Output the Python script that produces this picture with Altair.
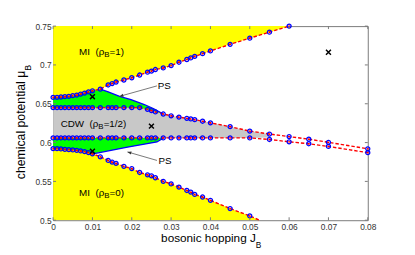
import altair as alt
import pandas as pd

FONT = "Liberation Sans"

# ---------------- data ----------------
J_GRID = [0.000, 0.001, 0.002, 0.003, 0.004, 0.005, 0.006, 0.007, 0.008, 0.009, 0.010,
          0.012, 0.014, 0.015, 0.016, 0.018, 0.020, 0.022,
          0.024, 0.025, 0.026, 0.028, 0.030, 0.032, 0.034, 0.035, 0.036, 0.038, 0.040,
          0.045, 0.050, 0.055, 0.060]
J_EXTRA = [0.065, 0.070, 0.080]

# MI (rho_B = 1) boundary
MU_MI1 = [0.6582, 0.6582, 0.6587, 0.6591, 0.6595, 0.6604, 0.6612, 0.6625, 0.6637, 0.6652, 0.6667,
          0.6688, 0.6742, 0.6760, 0.6780, 0.6806, 0.6835, 0.6870,
          0.6907, 0.6920, 0.6941, 0.6961, 0.6991, 0.7035, 0.7070, 0.7090, 0.7110, 0.7145, 0.7180,
          0.7265, 0.7345, 0.7422, 0.7500]
# CDW upper boundary
MU_CDW_TOP = [0.6450] * 18 + [0.6428, 0.6412, 0.6395, 0.6368, 0.6345, 0.6328, 0.6312, 0.6305,
                              0.6295, 0.6275, 0.6254, 0.6205, 0.6148, 0.6110, 0.6077,
                              0.6044, 0.6003, 0.5920]
# CDW lower boundary
MU_CDW_BOT = [0.6060] * 31 + [0.6040, 0.6010, 0.5985, 0.5950, 0.5870]
# MI (rho_B = 0) boundary
MU_MI0 = [0.5922, 0.5922, 0.5918, 0.5913, 0.5909, 0.5905, 0.5900, 0.5892, 0.5884, 0.5871, 0.5855,
          0.5817, 0.5770, 0.5749, 0.5732, 0.5694, 0.5665, 0.5615,
          0.5585, 0.5572, 0.5547, 0.5501, 0.5467, 0.5426, 0.5383, 0.5363, 0.5332, 0.5299, 0.5256,
          0.5150, 0.5055]
MI0_EDGE_J = 0.0525   # where the MI(0) boundary leaves the frame at mu = 0.5

# phase-separation (PS) boundaries
PS_UP_J = [0.012, 0.014, 0.0169, 0.0198, 0.0232, 0.0256, 0.028]
PS_UP_MU = [0.6688, 0.6654, 0.6595, 0.6553, 0.6490, 0.6436, 0.6368]
PS_LO_J = [0.010, 0.0115, 0.0189, 0.0264, 0.028]
PS_LO_MU = [0.5855, 0.5868, 0.5940, 0.6008, 0.6055]

# green PS region lower edge under the upper PS line
GREEN_UP_LO = [0.6450] * 11 + [0.6450, 0.6450, 0.6450, 0.6450, 0.6437, 0.6405, 0.6368]
GRAY_J = J_GRID[:32]
GRAY_LO = [0.6060] * 31 + [0.6065]

# crosses
CROSS_J = [0.010, 0.010, 0.025, 0.070]
CROSS_MU = [0.6591, 0.5888, 0.6212, 0.7163]

# arrows (text -> boundary)
ARROW_UP_J = [0.0264, 0.01687]
ARROW_UP_MU = [0.6730, 0.6595]
ARROW_LO_J = [0.0264, 0.0189]
ARROW_LO_MU = [0.5770, 0.5880]

X_TICKS = [0.0, 0.01, 0.02, 0.03, 0.04, 0.05, 0.06, 0.07, 0.08]
Y_TICKS = [0.5, 0.55, 0.6, 0.65, 0.7, 0.75]

# ---------------- tables ----------------
J_ALL = J_GRID + J_EXTRA
yellow_top = pd.DataFrame({"J": J_GRID, "lo": MU_MI1, "hi": [0.75] * len(J_GRID)})
yellow_bot = pd.DataFrame({"J": J_GRID[:31] + [MI0_EDGE_J],
                           "lo": [0.5] * 32, "hi": MU_MI0 + [0.5]})
gray = pd.DataFrame({"J": GRAY_J, "lo": GRAY_LO, "hi": MU_CDW_TOP[:32]})
green_up = pd.DataFrame({"J": J_GRID[:11] + PS_UP_J,
                         "lo": GREEN_UP_LO,
                         "hi": MU_MI1[:11] + PS_UP_MU})
green_lo = pd.DataFrame({"J": J_GRID[:11] + PS_LO_J[1:],
                         "lo": MU_MI0[:11] + PS_LO_MU[1:],
                         "hi": [0.6060] * 15})

pts = pd.concat([
    pd.DataFrame({"J": J_GRID, "mu": MU_MI1, "s": "MI1"}),
    pd.DataFrame({"J": J_ALL, "mu": MU_CDW_TOP, "s": "CDWtop"}),
    pd.DataFrame({"J": J_ALL, "mu": MU_CDW_BOT, "s": "CDWbot"}),
    pd.DataFrame({"J": J_GRID[:31], "mu": MU_MI0, "s": "MI0"}),
], ignore_index=True)
lines = pd.concat([pts, pd.DataFrame({"J": [MI0_EDGE_J], "mu": [0.5], "s": ["MI0"]})],
                  ignore_index=True)
ps_lines = pd.concat([
    pd.DataFrame({"J": PS_UP_J, "mu": PS_UP_MU, "s": "up"}),
    pd.DataFrame({"J": PS_LO_J, "mu": PS_LO_MU, "s": "lo"}),
], ignore_index=True)
crosses = pd.DataFrame({"J": CROSS_J, "mu": CROSS_MU})
arrows = pd.concat([
    pd.DataFrame({"J": ARROW_UP_J, "mu": ARROW_UP_MU, "s": "up"}),
    pd.DataFrame({"J": ARROW_LO_J, "mu": ARROW_LO_MU, "s": "lo"}),
], ignore_index=True)
xt = pd.DataFrame({"t": X_TICKS})
yt = pd.DataFrame({"t": Y_TICKS})
one = pd.DataFrame({"k": [0]})

# ---------------- encodings ----------------
xs = alt.Scale(domain=[0, 0.08], nice=False, zero=False)
ys = alt.Scale(domain=[0.5, 0.75], nice=False, zero=False)
AX_COL = "#7a7a7a"
xax = alt.Axis(values=X_TICKS, format="~g", ticks=False, tickSize=0, domain=False, grid=False,
               labelFont=FONT, labelFontSize=8.5, labelColor="#333333", labelPadding=2.5,
               labelFlush=False, title=None)
yax = alt.Axis(values=Y_TICKS, format="~g", ticks=False, tickSize=0, domain=False, grid=False,
               labelFont=FONT, labelFontSize=8.5, labelColor="#333333", labelPadding=2,
               labelFlush=False, title=None)


def X(f="J"):
    return alt.X(f"{f}:Q", scale=xs, axis=xax, title=None)


def Y(f="mu"):
    return alt.Y(f"{f}:Q", scale=ys, axis=yax, title=None)


def XD(v):
    return alt.X(datum=v, scale=xs, axis=xax, title=None)


def YD(v):
    return alt.Y(datum=v, scale=ys, axis=yax, title=None)


def area(df, color):
    return alt.Chart(df).mark_area(color=color, opacity=1, clip=True).encode(
        x=X(), y=Y("lo"), y2=alt.Y2("hi:Q"))


layers = [
    area(yellow_top, "#ffff00"),
    area(yellow_bot, "#ffff00"),
    area(gray, "#c8c8c8"),
    area(green_up, "#00ff00"),
    area(green_lo, "#00ff00"),
    alt.Chart(ps_lines).mark_line(color="#0000ff", strokeWidth=1.3).encode(
        x=X(), y=Y(), detail="s:N"),
    alt.Chart(lines).mark_line(color="#ff0000", strokeWidth=1.4, strokeDash=[3.5, 2]).encode(
        x=X(), y=Y(), detail="s:N"),
    alt.Chart(pts).mark_point(shape="circle", filled=False, color="#0000ff", size=17,
                              strokeWidth=1.3, opacity=1).encode(x=X(), y=Y()),
    alt.Chart(pts).mark_point(shape="circle", filled=True, color="#ff0000", size=3,
                              opacity=1).encode(x=X(), y=Y()),
    alt.Chart(crosses).mark_point(shape="M-1,-1L1,1M-1,1L1,-1", filled=False, color="black",
                                  size=25, strokeWidth=1.5, opacity=1).encode(x=X(), y=Y()),
    # arrows
    alt.Chart(arrows).mark_line(color="#555555", strokeWidth=0.8).encode(
        x=X(), y=Y(), detail="s:N", order=alt.Order("J:Q", sort="descending")),
    alt.Chart(one).mark_point(shape="M0,0L-2,-0.8L-2,0.8Z", filled=True, color="#333333",
                              size=16, angle=164, opacity=1).encode(
        x=XD(ARROW_UP_J[1]), y=YD(ARROW_UP_MU[1])),
    alt.Chart(one).mark_point(shape="M0,0L-2,-0.8L-2,0.8Z", filled=True, color="#333333",
                              size=16, angle=196, opacity=1).encode(
        x=XD(ARROW_LO_J[1]), y=YD(ARROW_LO_MU[1])),
]

# region labels with subscripts
labels = [("MI\u00a0\u00a0(\u03c1", "=1)", 0.0130, 0.7130),
          ("CDW\u00a0\u00a0(\u03c1", "=1/2)", 0.0115, 0.6203),
          ("MI\u00a0\u00a0(\u03c1", "=0)", 0.0130, 0.5307)]
for head, tail, jx, my in labels:
    layers.append(alt.Chart(one).mark_text(text=head, font=FONT, fontSize=10, align="right",
                                           baseline="alphabetic", color="black").encode(
        x=XD(jx), y=YD(my)))
    layers.append(alt.Chart(one).mark_text(text="B", font=FONT, fontSize=8, align="left",
                                           baseline="alphabetic", dy=2, color="black").encode(
        x=XD(jx), y=YD(my)))
    layers.append(alt.Chart(one).mark_text(text=tail, font=FONT, fontSize=10, align="left",
                                           baseline="alphabetic", dx=5.4, color="black").encode(
        x=XD(jx), y=YD(my)))

for jx, my in [(0.0266, 0.6688), (0.0268, 0.5720)]:
    layers.append(alt.Chart(one).mark_text(text="PS", font=FONT, fontSize=10, align="left",
                                           baseline="alphabetic", color="black").encode(
        x=XD(jx), y=YD(my)))

# inward ticks on all four sides
W, H, TL = 321, 198, 3
layers += [
    alt.Chart(xt).mark_rule(color=AX_COL, strokeWidth=1).encode(
        x=X("t"), y=alt.value(H), y2=alt.value(H - TL)),
    alt.Chart(xt).mark_rule(color=AX_COL, strokeWidth=1).encode(
        x=X("t"), y=alt.value(0), y2=alt.value(TL)),
    alt.Chart(yt).mark_rule(color=AX_COL, strokeWidth=1).encode(
        y=Y("t"), x=alt.value(0), x2=alt.value(TL)),
    alt.Chart(yt).mark_rule(color=AX_COL, strokeWidth=1).encode(
        y=Y("t"), x=alt.value(W), x2=alt.value(W - TL)),
]

# axis titles with subscripts
layers += [
    alt.Chart(one).mark_text(text="bosonic hopping J", font=FONT, fontSize=12, align="right",
                             baseline="alphabetic", color="black").encode(
        x=alt.value(206.8), y=alt.value(220.5)),
    alt.Chart(one).mark_text(text="B", font=FONT, fontSize=8.5, align="left",
                             baseline="alphabetic", dy=5.5, color="black").encode(
        x=alt.value(206.8), y=alt.value(220.5)),
    alt.Chart(one).mark_text(text="chemical potential \u03bc", font=FONT, fontSize=12.5,
                             align="right", baseline="alphabetic", angle=270,
                             color="black").encode(
        x=alt.value(-29), y=alt.value(45.5)),
    alt.Chart(one).mark_text(text="B", font=FONT, fontSize=9, align="left",
                             baseline="alphabetic", angle=270, dy=6, color="black").encode(
        x=alt.value(-29), y=alt.value(45.5)),
]

chart = alt.layer(*layers).properties(
    width=W, height=H,
    padding={"left": 46, "top": 16, "right": 40, "bottom": 33},
    autosize=alt.AutoSizeParams(type="none"),
    background="white",
).configure_view(stroke=AX_COL, strokeWidth=1)

chart.save("out.html", embed_options={"renderer": "svg", "actions": False})
